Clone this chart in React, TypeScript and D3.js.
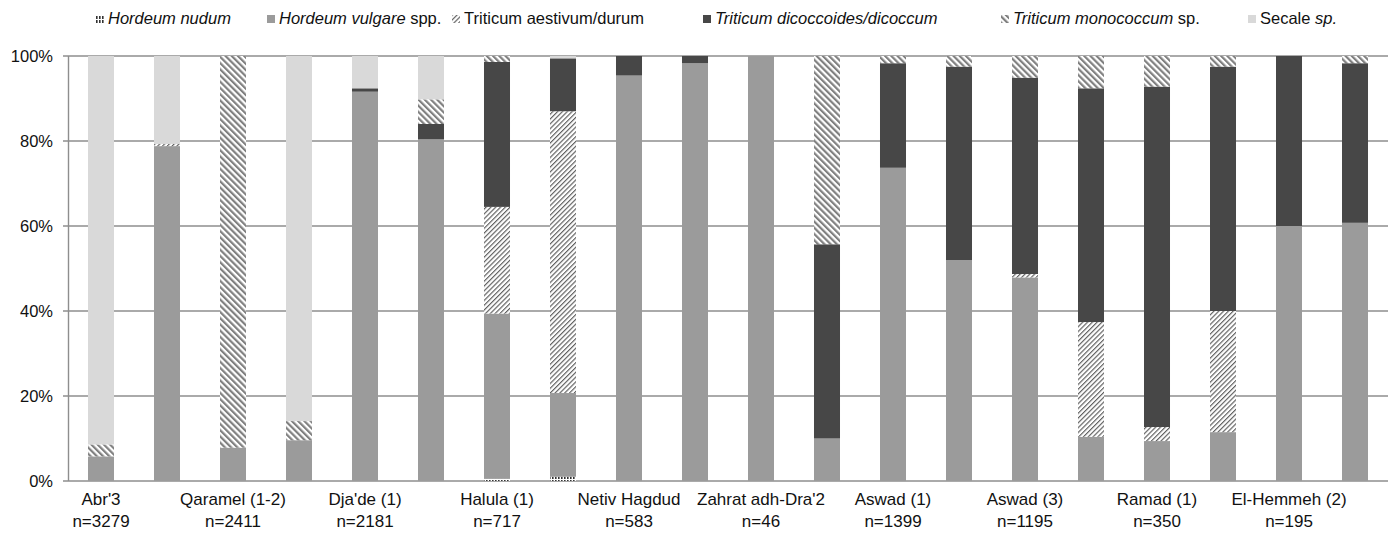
import React from "react";
import * as d3 from "d3";

const siteNames = ["Abr'3", "", "Qaramel (1-2)", "", "Dja'de (1)", "", "Halula (1)", "", "Netiv Hagdud", "", "Zahrat adh-Dra'2", "", "Aswad (1)", "", "Aswad (3)", "", "Ramad (1)", "", "El-Hemmeh (2)", ""];
const sampleSizes = ["n=3279", "", "n=2411", "", "n=2181", "", "n=717", "", "n=583", "", "n=46", "", "n=1399", "", "n=1195", "", "n=350", "", "n=195", ""];

const hordeumNudum = [0, 0, 0, 0, 0, 0, 0.5, 1, 0, 0, 0, 0, 0, 0, 0, 0, 0, 0, 0, 0];
const hordeumVulgare = [5.8, 78.8, 7.85, 9.6, 91.6, 80.4, 38.9, 19.7, 95.4, 98.3, 100, 10.0, 73.7, 52.0, 47.9, 10.4, 9.4, 11.5, 60.0, 60.75];
const triticumAestivum = [0, 0.5, 0, 0, 0, 0, 25.1, 66.3, 0, 0, 0, 0, 0, 0, 0.8, 27.0, 3.3, 28.5, 0, 0];
const triticumDicoccum = [0, 0, 0, 0, 0.8, 3.6, 34.1, 12.45, 4.6, 1.7, 0, 45.7, 24.6, 45.5, 46.2, 55.0, 80.1, 57.5, 40.0, 37.55];
const triticumMonococcum = [2.8, 0, 92.15, 4.5, 0, 5.8, 1.4, 0, 0, 0, 0, 44.3, 1.7, 2.5, 5.1, 7.6, 7.2, 2.5, 0, 1.7];
const secale = [91.4, 20.7, 0, 85.9, 7.6, 10.2, 0, 0.55, 0, 0, 0, 0, 0, 0, 0, 0, 0, 0, 0, 0];

const yTicks = [0, 20, 40, 60, 80, 100];

const seriesKeys = ["nudum", "vulgare", "aestivum", "dicoccum", "monococcum", "secale"];
const seriesValues = [hordeumNudum, hordeumVulgare, triticumAestivum, triticumDicoccum, triticumMonococcum, secale];
const seriesFills = ["url(#pNudum)", "#9b9b9b", "url(#pAestivum)", "#474747", "url(#pMono)", "#d9d9d9"];
const legendParts = [
  [{ t: "Hordeum nudum", i: true }],
  [{ t: "Hordeum vulgare", i: true }, { t: " spp.", i: false }],
  [{ t: "Triticum aestivum/durum", i: false }],
  [{ t: "Triticum dicoccoides/dicoccum", i: true }],
  [{ t: "Triticum monococcum", i: true }, { t: " sp.", i: false }],
  [{ t: "Secale ", i: false }, { t: "sp.", i: true }],
];
const legendTextX = [108, 279, 464, 715, 1013, 1260];

const W = 1395;
const H = 533;
const FONT = "'Liberation Sans', Arial, sans-serif";

export default function App() {
  const rows = siteNames.map((_, i) => {
    const r: any = { idx: i };
    seriesKeys.forEach((k, s) => (r[k] = seriesValues[s][i]));
    return r;
  });
  const stacked = d3.stack().keys(seriesKeys)(rows);
  const x = d3
    .scaleBand<number>()
    .domain(rows.map((r) => r.idx))
    .range([68, 1388])
    .paddingInner(0.606)
    .paddingOuter(0.303);
  const y = d3.scaleLinear().domain([0, 100]).range([481, 56]);

  return (
    <svg
      width={W}
      height={H}
      style={{ position: "absolute", left: 0, top: 0, background: "#fff" }}
      fontFamily={FONT}
    >
      <defs>
        <pattern id="pNudum" patternUnits="userSpaceOnUse" width="3" height="4">
          <rect width="3" height="4" fill="#fff" />
          <rect x="0" y="0" width="1.6" height="3" fill="#333" />
        </pattern>
        <pattern id="pAestivum" patternUnits="userSpaceOnUse" width="3.4" height="3.4" patternTransform="rotate(45)">
          <rect width="3.4" height="3.4" fill="#fff" />
          <line x1="0.6" y1="0" x2="0.6" y2="3.4" stroke="#555" strokeWidth="1.1" />
        </pattern>
        <pattern id="pMono" patternUnits="userSpaceOnUse" width="4.4" height="4.4" patternTransform="rotate(-45)">
          <rect width="4.4" height="4.4" fill="#fff" />
          <line x1="1.1" y1="0" x2="1.1" y2="4.4" stroke="#808080" strokeWidth="2.2" />
        </pattern>
      </defs>

      {/* gridlines */}
      {yTicks.map((t) => (
        <line key={"g" + t} x1={63} x2={1388} y1={y(t)} y2={y(t)} stroke="#8e8e8e" strokeWidth={1.4} />
      ))}
      <line x1={68.5} x2={68.5} y1={y(100)} y2={y(0)} stroke="#8e8e8e" strokeWidth={1.4} />

      {/* bars */}
      {stacked.map((layer, si) => (
        <g key={layer.key} fill={seriesFills[si]}>
          {layer.map((d, i) => {
            const h = y(d[0]) - y(d[1]);
            if (h <= 0) return null;
            return <rect key={i} x={x(i)} width={x.bandwidth()} y={y(d[1])} height={h} />;
          })}
        </g>
      ))}

      {/* y labels */}
      {yTicks.map((t) => (
        <text key={"yl" + t} x={53} y={y(t)} dy="0.35em" textAnchor="end" fontSize={16.5} fill="#111">
          {t + "%"}
        </text>
      ))}

      {/* x labels */}
      {rows.map((r, i) =>
        siteNames[i] ? (
          <text key={"xl" + i} textAnchor="middle" fontSize={17} fill="#111">
            <tspan x={x(i)! + x.bandwidth() / 2} y={505}>{siteNames[i]}</tspan>
            <tspan x={x(i)! + x.bandwidth() / 2} y={527}>{sampleSizes[i]}</tspan>
          </text>
        ) : null
      )}

      {/* legend */}
      {legendParts.map((parts, li) => (
        <g key={"lg" + li}>
          <rect x={legendTextX[li] - 12} y={15} width={8} height={8} fill={seriesFills[li]} />
          <text x={legendTextX[li]} y={24} fontSize={16.5} fill="#111">
            {parts.map((p, pi) => (
              <tspan key={pi} fontStyle={p.i ? "italic" : "normal"}>
                {p.t}
              </tspan>
            ))}
          </text>
        </g>
      ))}
    </svg>
  );
}
